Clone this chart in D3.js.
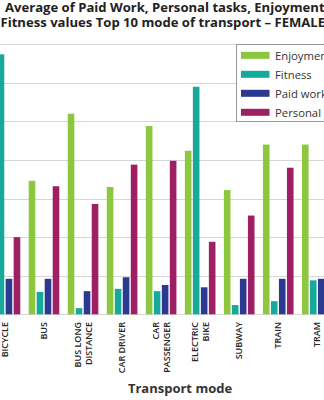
<!DOCTYPE html>
<html>
<head>
<meta charset="utf-8">
<script src="https://cdn.jsdelivr.net/npm/d3@7"></script>
<style>
  html, body { margin: 0; padding: 0; background: #fff; }
  svg { display: block; }
  text { font-family: "Open Sans", sans-serif; }
</style>
</head>
<body>
<div id="chart"></div>
<script>
const categories = ["BICYCLE", "BUS", "BUS LONG DISTANCE", "CAR DRIVER", "CAR PASSENGER", "ELECTRIC BIKE", "SUBWAY", "TRAIN", "TRAM"];
const categoryLabels = [["BICYCLE"], ["BUS"], ["BUS LONG", "DISTANCE"], ["CAR DRIVER"], ["CAR", "PASSENGER"], ["ELECTRIC", "BIKE"], ["SUBWAY"], ["TRAIN"], ["TRAM"]];
const seriesNames = ["Enjoyment", "Fitness", "Paid work", "Personal tasks"];
const enjoyment     = [2.20, 1.73, 2.60, 1.65, 2.44, 2.12, 1.61, 2.20, 2.20];
const fitness       = [3.37, 0.29, 0.08, 0.33, 0.30, 2.95, 0.12, 0.17, 0.44];
const paidWork      = [0.46, 0.46, 0.30, 0.48, 0.38, 0.35, 0.46, 0.46, 0.46];
const personalTasks = [1.00, 1.66, 1.43, 1.94, 1.99, 0.94, 1.28, 1.90, 1.60];
const yTicks = [0, 0.5, 1, 1.5, 2, 2.5, 3, 3.5];
const titleLines = ["Average of Paid Work, Personal tasks, Enjoyment and", "Fitness values Top 10 mode of transport – FEMALE"];
const xAxisTitle = "Transport mode";

const seriesValues = [enjoyment, fitness, paidWork, personalTasks];
const colors = ["#8dc63f", "#17a99b", "#2b3990", "#9e1f63"];

const W = 324, H = 400;
const svg = d3.select("#chart").append("svg").attr("width", W).attr("height", H);

const y = d3.scaleLinear().domain([0, 3.5]).range([314.3, 44.3]);
const x0 = d3.scaleBand().domain(categories).range([-14.56, 336.8]).paddingInner(0.216).paddingOuter(0.108);
const x1 = d3.scaleBand().domain(seriesNames).range([0, x0.bandwidth()]).paddingInner(0.175);
const color = d3.scaleOrdinal().domain(seriesNames).range(colors);

// gridlines
svg.append("g").selectAll("line").data(yTicks).join("line")
  .attr("x1", 0).attr("x2", W)
  .attr("y1", d => Math.round(y(d)) + 0.5).attr("y2", d => Math.round(y(d)) + 0.5)
  .attr("stroke", "#d6d6d6").attr("stroke-width", 1);

// bars
const rows = categories.map((c, i) => ({ c, vals: seriesNames.map((s, j) => ({ s, v: seriesValues[j][i] })) }));
const g = svg.append("g").selectAll("g").data(rows).join("g")
  .attr("transform", d => `translate(${x0(d.c)},0)`);
g.selectAll("rect").data(d => d.vals).join("rect")
  .attr("x", d => x1(d.s)).attr("width", x1.bandwidth())
  .attr("y", d => y(d.v)).attr("height", d => y(0) - y(d.v))
  .attr("fill", d => color(d.s));

// x labels
const lab = svg.append("g").selectAll("text").data(categories).join("text")
  .attr("transform", (d) => `translate(${x0(d) + x0.bandwidth() / 2},322) rotate(-90)`)
  .attr("text-anchor", "end")
  .attr("font-size", 9).attr("font-weight", 600).attr("fill", "#262626");
lab.each(function(d, i) {
  const lines = categoryLabels[i];
  const t = d3.select(this);
  lines.forEach((ln, k) => {
    t.append("tspan").attr("x", 0)
      .attr("dy", k === 0 ? (0.35 - (lines.length - 1) * 0.55) + "em" : "1.15em")
      .text(ln);
  });
});

// axis title
svg.append("text").attr("x", 180).attr("y", 393).attr("text-anchor", "middle")
  .attr("font-size", 13).attr("font-weight", 700).attr("fill", "#333").text(xAxisTitle);

// title
const title = svg.append("g");
title.append("text").attr("x", 5).attr("y", 11.5).attr("font-size", 13.1).attr("font-weight", 700).attr("fill", "#222").text(titleLines[0]);
title.append("text").attr("x", 0.5).attr("y", 26.5).attr("font-size", 13.1).attr("font-weight", 700).attr("fill", "#222").text(titleLines[1]);

// legend
const lg = svg.append("g");
lg.append("rect").attr("x", 236.5).attr("y", 44.5).attr("width", 120).attr("height", 77)
  .attr("fill", "#fff").attr("stroke", "#9a9a9a");
const li = lg.selectAll("g.item").data(seriesNames).join("g").attr("class", "item")
  .attr("transform", (d, i) => `translate(241,${55.3 + i * 19})`);
li.append("rect").attr("x", 0).attr("y", -3.5).attr("width", 28.5).attr("height", 7).attr("fill", d => color(d));
li.append("text").attr("x", 34).attr("y", 4.2).attr("font-size", 11.3).attr("fill", "#333").text(d => d);
</script>
</body>
</html>
